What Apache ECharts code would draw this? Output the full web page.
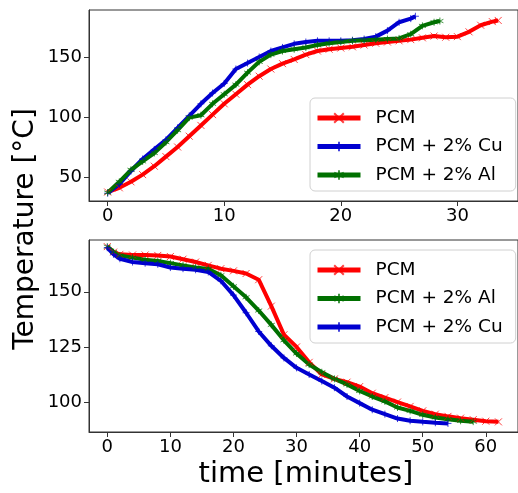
<!DOCTYPE html>
<html><head><meta charset="utf-8">
<script src="https://cdn.jsdelivr.net/npm/echarts@6/dist/echarts.min.js"></script>
<style>html,body{margin:0;padding:0;background:#fff}#c{width:518px;height:493px}</style>
</head><body><div id="c"></div>
<script>
// ---- Heating (top panel) ----
const heatRedT   = [0,1,2,3,4,5,6,7,8,9,10,11,12,13,14,15,16,17,18,19,20,21,22,23,24,25,26,27,28,29,30,31,32,33,33.5];
const heatRedV   = [37.5,41,46,52,59,67,75,84,93,102,111,119,127,134,140,144.5,148,152,155,156.5,157.5,158.5,160,161.5,162.5,163.5,164.5,166,167.5,166.5,167,171,176.5,179.5,180.5];
const heatCuT    = [0,1,2,3,4,5,6,7,8,9,10,11,12,13,14,15,16,17,18,19,20,21,22,23,24,25,26,26.4];
const heatCuV    = [36.5,44,55,65,73,81,91,101,111,120,128,140,145,150,155,158,161,162.5,163.5,163.5,163.5,164,165,167,172,179,182,184];
const heatAlT    = [0,1,2,3,4,5,6,7,8,9,10,11,12,13,14,15,16,17,18,19,20,21,22,23,24,25,26,27,28,28.5];
const heatAlV    = [37,46,56,63,70,79,89,99.5,101.5,111,119,127,137,146,152,155,156.5,158,160,161.5,162.5,163.5,164,164.5,165,165.5,169,176,179,180];
// ---- Cooling (bottom panel) ----
const coolRedT   = [0,1,2,4,6,8,10,12,14,16,18,20,22,24,26,28,30,32,34,36,38,40,42,44,46,48,50,52,54,56,58,60,62];
const coolRedV   = [170.5,168,167,166.7,166.7,166.5,166,164.8,163.5,162,160.5,159.5,158.3,155.5,143.5,130.5,125,118,112.5,110.5,109,107,104,102,100,98,96,94.5,93.5,92.7,92,91.3,91];
const coolAlT    = [0,1,2,4,6,8,10,12,14,16,18,20,22,24,26,28,30,32,34,36,38,40,42,44,46,48,50,52,54,56,58];
const coolAlV    = [170.5,168,166.5,165.5,164.5,164,163,162,161,160.4,157.5,152.5,147.5,141.5,135,128,122,117,113.5,110.5,108,105,102.5,100.3,97.5,96,94.2,93,92.2,91.5,91.1];
const coolCuT    = [0,1,2,4,6,8,10,12,14,16,18,20,22,24,26,28,30,32,34,36,38,40,42,44,46,48,50,52,54];
const coolCuV    = [170,167,165,163.5,163,162.5,161,160.5,160,159,155,148.5,140.5,132,125.5,120,115.5,112.5,109.5,106.5,102.5,99.5,96.5,94.5,92.5,91.5,91,90.6,90.3];
// ---- labels / ticks ----
const nameRed = 'PCM', nameCu = 'PCM + 2% Cu', nameAl = 'PCM + 2% Al';
const topXTicks = [0,10,20,30];
const topYTicks = [50,100,150];
const botXTicks = [0,10,20,30,40,50,60];
const botYTicks = [100,125,150];
const yTitle = 'Temperature [°C]';
const xTitle = 'time [minutes]';

const FONT = '"DejaVu Sans", sans-serif';
const RED = '#ff0000', BLUE = '#0000d0', GREEN = '#007000';
const SYM_X = 'path://M0,0L10,10M10,0L0,10';
const SYM_V = 'path://M5,0L5,10M2,5L8,5';
const SYM_S = 'path://M5,0L5,10M0.7,2.5L9.3,7.5M0.7,7.5L9.3,2.5';

function pairs(t, v) { return t.map((x, i) => [x, v[i]]); }
function mkSeries(name, t, v, color, sym, gi) {
  return {
    type: 'line', name, xAxisIndex: gi, yAxisIndex: gi,
    data: pairs(t, v), symbol: sym, symbolSize: 7, showSymbol: true,
    lineStyle: { color, width: 4 },
    itemStyle: { color, borderColor: color, borderWidth: 1, opacity: 0.75 },
    emphasis: { disabled: true }, animation: false
  };
}
function xAx(gi, min, max, ticks) {
  return {
    type: 'value', gridIndex: gi, min, max,
    axisLine: { show: true, onZero: false, lineStyle: { color: '#333', width: 1 } },
    axisTick: { show: true, length: 5, customValues: ticks, lineStyle: { color: '#333' } },
    axisLabel: { customValues: ticks, margin: 6, fontFamily: FONT, fontSize: 18, color: '#000' },
    splitLine: { show: false }
  };
}
function yAx(gi, min, max, ticks) {
  return {
    type: 'value', gridIndex: gi, min, max,
    axisLine: { show: true, onZero: false, lineStyle: { color: '#333', width: 1 } },
    axisTick: { show: true, length: 5, customValues: ticks, lineStyle: { color: '#333' } },
    axisLabel: { customValues: ticks, margin: 7, fontFamily: FONT, fontSize: 18, color: '#000' },
    splitLine: { show: false }
  };
}
function legend(top, names) {
  return {
    data: names, orient: 'vertical', left: 310, top,
    padding: [10, 13, 6, 5], itemGap: 8.5, itemWidth: 43, itemHeight: 12,
    backgroundColor: '#fff', borderColor: '#d0d0d0', borderWidth: 1, borderRadius: 5,
    lineStyle: { width: 5 },
    textStyle: { fontFamily: FONT, fontSize: 18.5, color: '#000', lineHeight: 20, padding: [0, 0, 0, 10] },
    selectedMode: false
  };
}

const chart = echarts.init(document.getElementById('c'), null, { renderer: 'canvas' });
chart.setOption({
  animation: false,
  backgroundColor: '#fff',
  grid: [
    { left: 89, top: 10, right: -7, height: 191, show: true, borderColor: '#333', borderWidth: 1, backgroundColor: 'transparent' },
    { left: 89, top: 240, right: -7, height: 192, show: true, borderColor: '#333', borderWidth: 1, backgroundColor: 'transparent' }
  ],
  xAxis: [ xAx(0, -1.6, 35.2, topXTicks), xAx(1, -2.9, 65.1, botXTicks) ],
  yAxis: [ yAx(0, 30, 189.2, topYTicks), yAx(1, 86.4, 173.5, botYTicks) ],
  legend: [ legend(98, [nameRed, nameCu, nameAl]), legend(250, [nameRed, nameAl, nameCu]) ],
  series: [
    mkSeries(nameRed, heatRedT, heatRedV, RED, SYM_X, 0),
    mkSeries(nameCu, heatCuT, heatCuV, BLUE, SYM_V, 0),
    mkSeries(nameAl, heatAlT, heatAlV, GREEN, SYM_S, 0),
    mkSeries(nameRed, coolRedT, coolRedV, RED, SYM_X, 1),
    mkSeries(nameAl, coolAlT, coolAlV, GREEN, SYM_S, 1),
    mkSeries(nameCu, coolCuT, coolCuV, BLUE, SYM_V, 1)
  ],
  graphic: [
    { type: 'text', x: 26, y: 229, rotation: Math.PI / 2,
      style: { text: yTitle, font: '28px ' + FONT, fill: '#000', textAlign: 'center', textVerticalAlign: 'middle' } },
    { type: 'text', x: 306, y: 474,
      style: { text: xTitle, font: '29px ' + FONT, fill: '#000', textAlign: 'center', textVerticalAlign: 'middle' } }
  ]
});
</script>
</body></html>
